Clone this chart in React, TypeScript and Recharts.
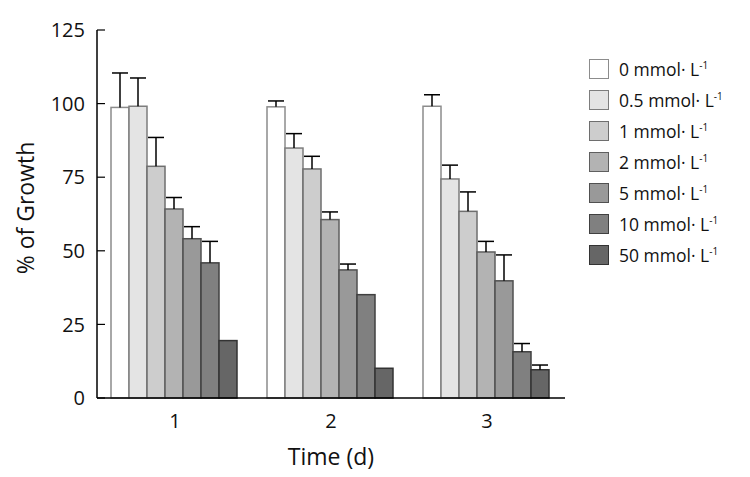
import { BarChart, Bar, XAxis, YAxis } from 'recharts'

const days = ['1', '2', '3']
const doses = ['0', '0.5', '1', '2', '5', '10', '50']

// % of growth per dose, one value per day
const growth0 = [98.7, 98.9, 99.1]
const growth05 = [99.1, 84.9, 74.4]
const growth1 = [78.7, 77.8, 63.4]
const growth2 = [64.2, 60.6, 49.6]
const growth5 = [54.1, 43.5, 39.8]
const growth10 = [45.9, 35.1, 15.7]
const growth50 = [19.5, 10.1, 9.6]

// upper error (SD) per dose, one value per day
const err0 = [11.7, 2.0, 3.9]
const err05 = [9.6, 4.9, 4.7]
const err1 = [9.8, 4.3, 6.6]
const err2 = [3.9, 2.6, 3.6]
const err5 = [4.1, 2.0, 8.8]
const err10 = [7.3, 0, 2.8]
const err50 = [0, 0, 1.6]

const yTicks = [0, 25, 50, 75, 100, 125]

const series = [growth0, growth05, growth1, growth2, growth5, growth10, growth50]
const errors = [err0, err05, err1, err2, err5, err10, err50]

const fills = ['#ffffff', '#e4e4e4', '#cdcdcd', '#b3b3b3', '#999999', '#808080', '#666666']
const strokes = ['#8c8c8c', '#7d7d7d', '#6e6e6e', '#5f5f5f', '#505050', '#404040', '#333333']

const data = days.map((d, i) => {
  const row: Record<string, any> = { day: d }
  series.forEach((s, k) => {
    row[`v${k}`] = s[i]
    row[`e${k}`] = errors[k][i]
  })
  return row
})

const FONT = '"Open Sans", sans-serif'

function BarWithError(props: any) {
  const { x, y, width, height, fill, stroke, payload, k } = props
  const val = payload[`v${k}`]
  const err = payload[`e${k}`]
  const cx = x + width / 2
  let top = y
  if (err > 0 && val > 0) top = y - (err * height) / val
  return (
    <g>
      <rect x={x} y={y} width={width} height={height} fill={fill} stroke={stroke} strokeWidth={1.5} />
      {err > 0 && (
        <g stroke="#000" strokeWidth={1.5}>
          <line x1={cx} y1={y} x2={cx} y2={top} />
          <line x1={cx - 8} y1={top} x2={cx + 8} y2={top} />
        </g>
      )}
    </g>
  )
}

function YTick(props: any) {
  const { x, y, payload } = props
  return (
    <g>
      <line x1={x + 10} y1={y} x2={x + 18} y2={y} stroke="#000" strokeWidth={1.2} />
      <text x={x - 2} y={y} dy="0.36em" textAnchor="end" fontSize={20} fontFamily={FONT} fill="#111">
        {payload.value}
      </text>
    </g>
  )
}

function Legend() {
  return (
    <div style={{ position: 'absolute', left: 589, top: 53, fontFamily: FONT, fontSize: 17.5, color: '#111' }}>
      {doses.map((d, k) => (
        <div key={d} style={{ display: 'flex', alignItems: 'center', height: 31 }}>
          <div
            style={{
              width: 18,
              height: 18,
              background: fills[k],
              border: `1.5px solid ${strokes[k]}`,
              marginRight: 10,
            }}
          />
          <span style={{ whiteSpace: 'nowrap' }}>
            {d} mmol· L<sup style={{ fontSize: 10 }}>-1</sup>
          </span>
        </div>
      ))}
    </div>
  )
}

export default function App() {
  return (
    <div style={{ position: 'absolute', left: 0, top: 0, width: 750, height: 477, background: '#fff' }}>
      <BarChart
        width={750}
        height={477}
        data={data}
        margin={{ top: 30, right: 185, left: 0, bottom: 0 }}
        barCategoryGap={14}
        barGap={0}
      >
        <XAxis
          dataKey="day"
          height={79}
          axisLine={{ stroke: '#000', strokeWidth: 1.5 }}
          tickLine={false}
          tickSize={0}
          tickMargin={16}
          tick={{ fontSize: 20, fontFamily: FONT, fill: '#111' }}
          label={{ value: 'Time (d)', position: 'insideBottom', offset: 12, fontSize: 23, fontFamily: FONT, fill: '#111' }}
        />
        <YAxis
          width={97}
          domain={[0, 125]}
          ticks={yTicks}
          axisLine={{ stroke: '#000', strokeWidth: 1.5 }}
          tickLine={false}
          tickSize={0}
          tickMargin={10}
          tick={<YTick />}
          label={{
            content: () => (
              <text
                transform="translate(25,208) rotate(-90)"
                textAnchor="middle"
                dominantBaseline="central"
                fontSize={23}
                fontFamily={FONT}
                fill="#111"
              >
                % of Growth
              </text>
            ),
          }}
        />
        {doses.map((d, k) => (
          <Bar
            key={d}
            dataKey={`v${k}`}
            fill={fills[k]}
            stroke={strokes[k]}
            isAnimationActive={false}
            shape={(p: any) => <BarWithError {...p} k={k} />}
          />
        ))}
      </BarChart>
      <Legend />
    </div>
  )
}
